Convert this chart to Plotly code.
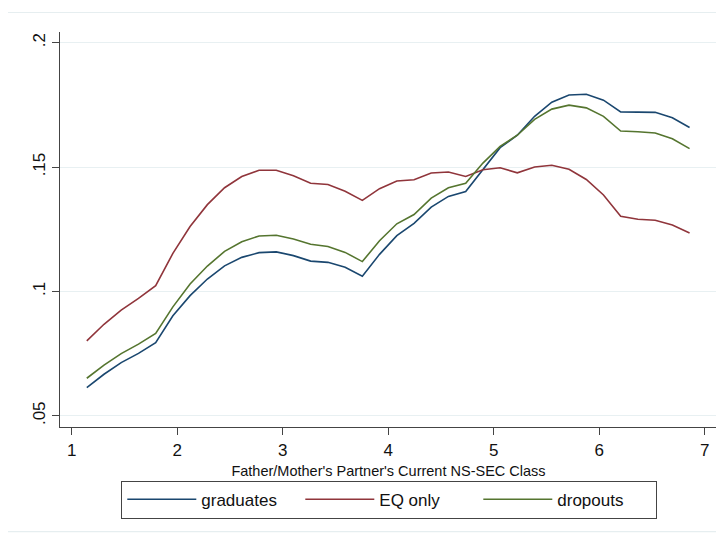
import plotly.graph_objects as go

# x positions of the smoothed curve (NS-SEC class)
ns_sec = [1.143, 1.306, 1.469, 1.633, 1.796, 1.959, 2.122, 2.286, 2.449, 2.612,
          2.776, 2.939, 3.102, 3.265, 3.429, 3.592, 3.755, 3.918, 4.082, 4.245,
          4.408, 4.571, 4.735, 4.898, 5.061, 5.224, 5.388, 5.551, 5.714, 5.878,
          6.041, 6.204, 6.367, 6.531, 6.694, 6.857]

graduates = [0.0613, 0.0667, 0.0714, 0.0751, 0.0794, 0.0902, 0.0983, 0.1050, 0.1103, 0.1137,
             0.1156, 0.1159, 0.1144, 0.1122, 0.1117, 0.1097, 0.1061, 0.1149, 0.1224, 0.1274,
             0.1339, 0.1382, 0.1402, 0.1491, 0.1578, 0.1628, 0.1704, 0.1761, 0.1790, 0.1793,
             0.1769, 0.1722, 0.1722, 0.1720, 0.1698, 0.1659]

eq_only = [0.0801, 0.0868, 0.0925, 0.0972, 0.1023, 0.1153, 0.1261, 0.1349, 0.1417, 0.1462,
           0.1487, 0.1487, 0.1465, 0.1435, 0.1430, 0.1403, 0.1366, 0.1413, 0.1444, 0.1449,
           0.1476, 0.1480, 0.1462, 0.1489, 0.1497, 0.1477, 0.1500, 0.1507, 0.1491, 0.1450,
           0.1388, 0.1302, 0.1290, 0.1286, 0.1267, 0.1235]

dropouts = [0.0651, 0.0704, 0.0750, 0.0788, 0.0831, 0.0938, 0.1030, 0.1102, 0.1161, 0.1200,
            0.1223, 0.1226, 0.1211, 0.1190, 0.1181, 0.1157, 0.1120, 0.1204, 0.1272, 0.1309,
            0.1375, 0.1417, 0.1435, 0.1516, 0.1583, 0.1628, 0.1692, 0.1733, 0.1749, 0.1738,
            0.1704, 0.1645, 0.1642, 0.1637, 0.1614, 0.1574]

x_ticks = [1, 2, 3, 4, 5, 6, 7]
y_ticks = [0.05, 0.1, 0.15, 0.2]
y_labels = [".05", ".1", ".15", ".2"]

FONT = "Liberation Sans, Arial, sans-serif"

fig = go.Figure()
fig.add_trace(go.Scatter(x=ns_sec, y=graduates, mode="lines", name="graduates",
                         line=dict(color="#1a476f", width=1.6)))
fig.add_trace(go.Scatter(x=ns_sec, y=eq_only, mode="lines", name="EQ only",
                         line=dict(color="#90353b", width=1.6)))
fig.add_trace(go.Scatter(x=ns_sec, y=dropouts, mode="lines", name="dropouts",
                         line=dict(color="#55752f", width=1.6)))

# light outer border of the graph region
fig.add_shape(type="rect", xref="paper", yref="paper",
              x0=-0.0814, x1=1.03, y0=-0.265, y1=1.0494,
              line=dict(color="#e6eef0", width=1.2), layer="below")

# page body adds an 8px offset, so the figure is a bit smaller than the window
fig.update_layout(
    width=716, height=526,
    margin=dict(l=52, r=7, t=24, b=107, autoexpand=False),
    paper_bgcolor="white", plot_bgcolor="white",
    font=dict(family=FONT, color="#111111"),
    showlegend=True,
    legend=dict(orientation="h", x=0.0933, y=-0.136, xanchor="left", yanchor="top",
                bordercolor="#444444", borderwidth=1, bgcolor="white",
                font=dict(size=17, family=FONT), itemwidth=69,
                entrywidth=94, entrywidthmode="pixels", tracegroupgap=0),
    xaxis=dict(range=[0.889, 7.117], tickvals=x_ticks, ticks="outside", ticklen=7,
               tickcolor="#444444", showline=True, linecolor="#444444", linewidth=1.2,
               showgrid=False, zeroline=False, tickfont=dict(size=17),
               title=dict(text="Father/Mother's Partner's Current NS-SEC Class",
                          font=dict(size=14.5), standoff=7)),
    yaxis=dict(range=[0.0455, 0.2043], tickvals=y_ticks, ticktext=y_labels,
               tickangle=-90, ticks="outside", ticklen=7, tickcolor="#444444",
               showline=True, linecolor="#444444", linewidth=1.2,
               showgrid=True, gridcolor="#e8f0f2", gridwidth=1.2, zeroline=False,
               tickfont=dict(size=17)),
)

fig.write_html("out.html")
